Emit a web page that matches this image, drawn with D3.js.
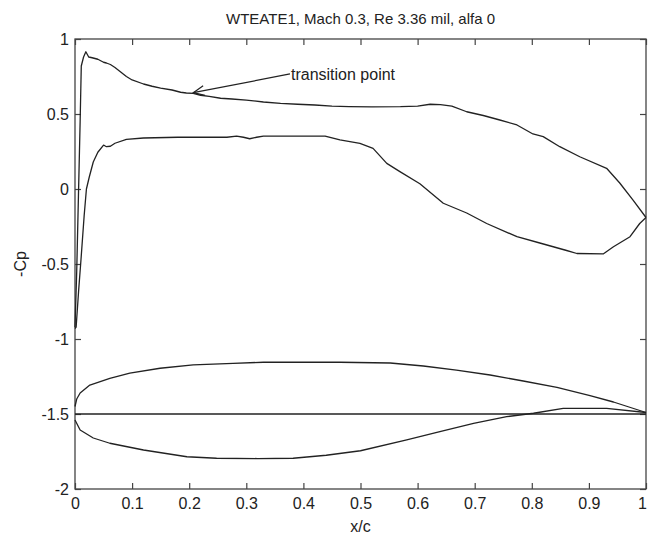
<!DOCTYPE html>
<html><head><meta charset="utf-8">
<script src="https://cdn.jsdelivr.net/npm/d3@7"></script>
<style>body{margin:0;background:#fff}svg{display:block}text{font-family:"Liberation Sans",Arial,sans-serif;fill:#222}</style>
</head><body>
<script>
const title = "WTEATE1, Mach 0.3, Re 3.36 mil, alfa 0";
const xTicks = [0,0.1,0.2,0.3,0.4,0.5,0.6,0.7,0.8,0.9,1];
const xTickLabels = ["0","0.1","0.2","0.3","0.4","0.5","0.6","0.7","0.8","0.9","1"];
const yTicks = [-2,-1.5,-1,-0.5,0,0.5,1];
const yTickLabels = ["-2","-1.5","-1","-0.5","0","0.5","1"];

const upperX  = [0,0.003,0.006,0.009,0.011,0.015,0.019,0.024,0.03,0.04,0.05,0.055,0.062,0.07,0.08,0.09,0.1,0.12,0.135,0.15,0.17,0.185,0.195,0.207,0.22,0.235,0.255,0.275,0.3,0.33,0.36,0.39,0.42,0.45,0.48,0.52,0.57,0.6,0.622,0.64,0.66,0.686,0.715,0.744,0.774,0.802,0.82,0.849,0.884,0.931,0.954,0.977,1.0];
const upperCp = [-0.92,-0.55,-0.05,0.45,0.82,0.88,0.915,0.88,0.875,0.865,0.845,0.84,0.83,0.81,0.78,0.75,0.727,0.7,0.685,0.673,0.66,0.645,0.64,0.638,0.625,0.618,0.605,0.6,0.593,0.58,0.571,0.565,0.56,0.553,0.549,0.547,0.549,0.553,0.565,0.562,0.553,0.515,0.49,0.46,0.427,0.367,0.349,0.282,0.215,0.138,0.04,-0.073,-0.19];

const lowerX  = [0,0.002,0.0065,0.0105,0.016,0.02,0.025,0.032,0.04,0.05,0.055,0.062,0.07,0.09,0.12,0.18,0.266,0.283,0.295,0.306,0.318,0.33,0.438,0.464,0.499,0.522,0.546,0.569,0.604,0.645,0.686,0.721,0.774,0.814,0.861,0.879,0.925,0.943,0.972,0.989,1.0];
const lowerCp = [-0.93,-0.92,-0.67,-0.47,-0.18,0.0,0.08,0.18,0.245,0.293,0.282,0.285,0.305,0.331,0.34,0.345,0.345,0.353,0.345,0.335,0.345,0.353,0.353,0.327,0.304,0.271,0.171,0.116,0.035,-0.095,-0.16,-0.23,-0.318,-0.36,-0.41,-0.43,-0.433,-0.385,-0.318,-0.23,-0.19];

const foilUpperX = [0,0.003,0.009,0.026,0.061,0.096,0.149,0.207,0.277,0.33,0.464,0.552,0.61,0.668,0.727,0.785,0.844,0.902,0.943,1];
const foilUpperY = [-1.45,-1.4,-1.36,-1.307,-1.262,-1.227,-1.195,-1.173,-1.162,-1.155,-1.155,-1.16,-1.18,-1.207,-1.24,-1.28,-1.322,-1.378,-1.42,-1.49];
const foilLowerX = [0,0.009,0.032,0.061,0.12,0.196,0.248,0.32,0.382,0.44,0.5,0.581,0.639,0.698,0.756,0.803,0.855,0.931,1];
const foilLowerY = [-1.54,-1.607,-1.66,-1.695,-1.74,-1.785,-1.795,-1.797,-1.795,-1.775,-1.745,-1.673,-1.618,-1.562,-1.518,-1.495,-1.462,-1.462,-1.49];
const chordX = [0,1];
const chordY = [-1.5,-1.5];

const annText = "transition point";
const annTip = [0.2072, 0.642];
const annTail = [0.3765, 0.767];

const W = 648, H = 536;
const m = {l:75, r:2, t:39, b:47};
const svg = d3.select("body").append("svg").attr("width",W).attr("height",H);
const x = d3.scaleLinear().domain([0,1]).range([m.l, W-m.r]);
const y = d3.scaleLinear().domain([-2,1]).range([H-m.b, m.t]);
const axisCol = "#444";
const fs = "16px";

svg.append("rect").attr("x",x(0)).attr("y",y(1)).attr("width",x(1)-x(0)).attr("height",y(-2)-y(1))
  .attr("fill","none").attr("stroke",axisCol).attr("stroke-width",1.3);

const tl = 6;
const gx = svg.append("g").attr("transform",`translate(0,${y(-2)})`)
  .call(d3.axisBottom(x).tickValues(xTicks).tickFormat((d,i)=>xTickLabels[i]).tickSize(-tl).tickPadding(9));
const gxt = svg.append("g").attr("transform",`translate(0,${y(1)})`)
  .call(d3.axisTop(x).tickValues(xTicks).tickFormat("").tickSize(-tl));
const gy = svg.append("g").attr("transform",`translate(${x(0)},0)`)
  .call(d3.axisLeft(y).tickValues(yTicks).tickFormat((d,i)=>yTickLabels[i]).tickSize(-tl).tickPadding(6));
const gyr = svg.append("g").attr("transform",`translate(${x(1)},0)`)
  .call(d3.axisRight(y).tickValues(yTicks).tickFormat("").tickSize(-tl));
[gx,gxt,gy,gyr].forEach(g=>{
  g.select(".domain").remove();
  g.selectAll(".tick line").attr("stroke",axisCol).attr("stroke-width",1.2);
  g.selectAll(".tick text").attr("fill","#222").style("font-size",fs).style("font-family","'Liberation Sans',Arial,sans-serif");
});
gx.selectAll(".tick text").filter(d=>d===1).attr("dx","-4");

const line = d3.line().x(d=>x(d[0])).y(d=>y(d[1]));
const series = [[upperX,upperCp],[lowerX,lowerCp],[foilUpperX,foilUpperY],[foilLowerX,foilLowerY],[chordX,chordY]];
series.forEach(([xs,ys])=>{
  svg.append("path").datum(xs.map((v,i)=>[v,ys[i]])).attr("d",line)
    .attr("fill","none").attr("stroke","#222").attr("stroke-width",1.3).attr("stroke-linejoin","round");
});

svg.append("text").attr("x",(x(0)+x(1))/2).attr("y",24).attr("text-anchor","middle").style("font-size","15px").text(title);
svg.append("text").attr("x",(x(0)+x(1))/2).attr("y",532).attr("text-anchor","middle").style("font-size",fs).text("x/c");
svg.append("text").attr("transform",`translate(26,${y(-0.5)}) rotate(-90)`).attr("text-anchor","middle").style("font-size",fs).text("-Cp");

const tx = x(annTail[0]), ty = y(annTail[1]), hx = x(annTip[0]), hy = y(annTip[1]);
svg.append("line").attr("x1",tx).attr("y1",ty).attr("x2",hx).attr("y2",hy).attr("stroke","#222").attr("stroke-width",1.2);
const ang = Math.atan2(ty-hy, tx-hx), al = 12, aw = 0.42;
const p1 = [hx+al*Math.cos(ang+aw), hy+al*Math.sin(ang+aw)];
const p2 = [hx+al*Math.cos(ang-aw), hy+al*Math.sin(ang-aw)];
svg.append("path").attr("d",`M${p1[0]},${p1[1]}L${hx},${hy}L${p2[0]},${p2[1]}`).attr("fill","none").attr("stroke","#222").attr("stroke-width",1.2);
svg.append("text").attr("x",tx+1).attr("y",ty+6).style("font-size",fs).text(annText);
</script>
</body></html>
